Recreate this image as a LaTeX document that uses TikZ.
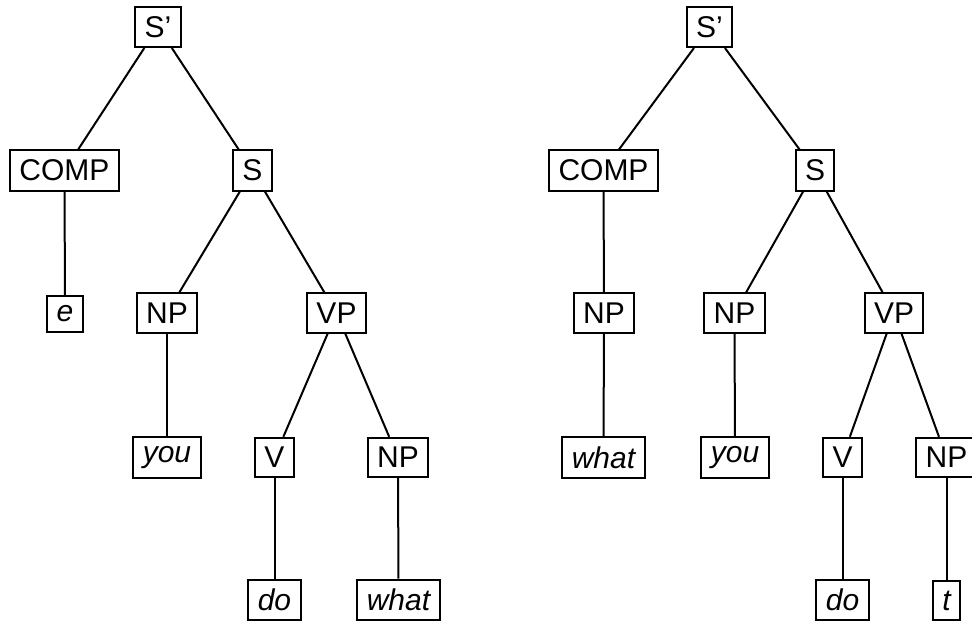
\documentclass[tikz,border=0pt]{standalone}
\usepackage{fontspec}
\setmainfont{Liberation Sans}
\tikzset{
  cat/.style={draw, line width=2pt, inner sep=9.4pt, font=\fontsize{30}{36}\selectfont},
  word/.style={cat, font=\fontsize{30}{36}\selectfont\itshape},
  branch/.style={line width=2pt}
}

\begin{document}
\begin{tikzpicture}[x=1pt, y=-1pt]
			%%%%% START %%%%%
			\useasboundingbox (0, 0) rectangle (972, 621);
			
			% left tree
			\node[cat] (lSbar) at (158, 27) {S’};
			\node[cat] (lCOMP) at (64.5, 170.5) {COMP};
			\node[cat] (lS) at (252.5, 170.5) {S};
			\node[word] (le) at (65, 314) {e};
			\node[cat] (lNP) at (167, 313) {NP};
			\node[cat] (lVP) at (336.5, 313) {VP};
			\node[word] (lyou) at (167, 457.5) {you};
			\node[cat] (lV) at (274.5, 457.5) {V};
			\node[cat] (lNPobj) at (398, 457.5) {NP};
			\node[word] (ldo) at (274.5, 600) {do};
			\node[word] (lwhat) at (398.5, 600) {what};
			
			\draw[branch] (lSbar) -- (lCOMP);
			\draw[branch] (lSbar) -- (lS);
			\draw[branch] (lCOMP) -- (le);
			\draw[branch] (lS) -- (lNP);
			\draw[branch] (lS) -- (lVP);
			\draw[branch] (lNP) -- (lyou);
			\draw[branch] (lVP) -- (lV);
			\draw[branch] (lVP) -- (lNPobj);
			\draw[branch] (lV) -- (ldo);
			\draw[branch] (lNPobj) -- (lwhat);
			
			% right tree
			\node[cat] (rSbar) at (709.5, 27) {S’};
			\node[cat] (rCOMP) at (603.5, 170.5) {COMP};
			\node[cat] (rS) at (815, 170.5) {S};
			\node[cat] (rNPwh) at (604, 313) {NP};
			\node[cat] (rNP) at (734.5, 313) {NP};
			\node[cat] (rVP) at (894, 313) {VP};
			\node[word] (rwhat) at (603.5, 457.5) {what};
			\node[word] (ryou) at (735, 457.5) {you};
			\node[cat] (rV) at (842.5, 457.5) {V};
			\node[cat] (rNPobj) at (946.5, 457.5) {NP};
			\node[word] (rdo) at (842.5, 600) {do};
			\node[word] (rt) at (946.5, 600.5) {t};
			
			\draw[branch] (rSbar) -- (rCOMP);
			\draw[branch] (rSbar) -- (rS);
			\draw[branch] (rCOMP) -- (rNPwh);
			\draw[branch] (rNPwh) -- (rwhat);
			\draw[branch] (rS) -- (rNP);
			\draw[branch] (rS) -- (rVP);
			\draw[branch] (rNP) -- (ryou);
			\draw[branch] (rVP) -- (rV);
			\draw[branch] (rVP) -- (rNPobj);
			\draw[branch] (rV) -- (rdo);
			\draw[branch] (rNPobj) -- (rt);
			%%%%% END %%%%%
		\end{tikzpicture}
\end{document}
